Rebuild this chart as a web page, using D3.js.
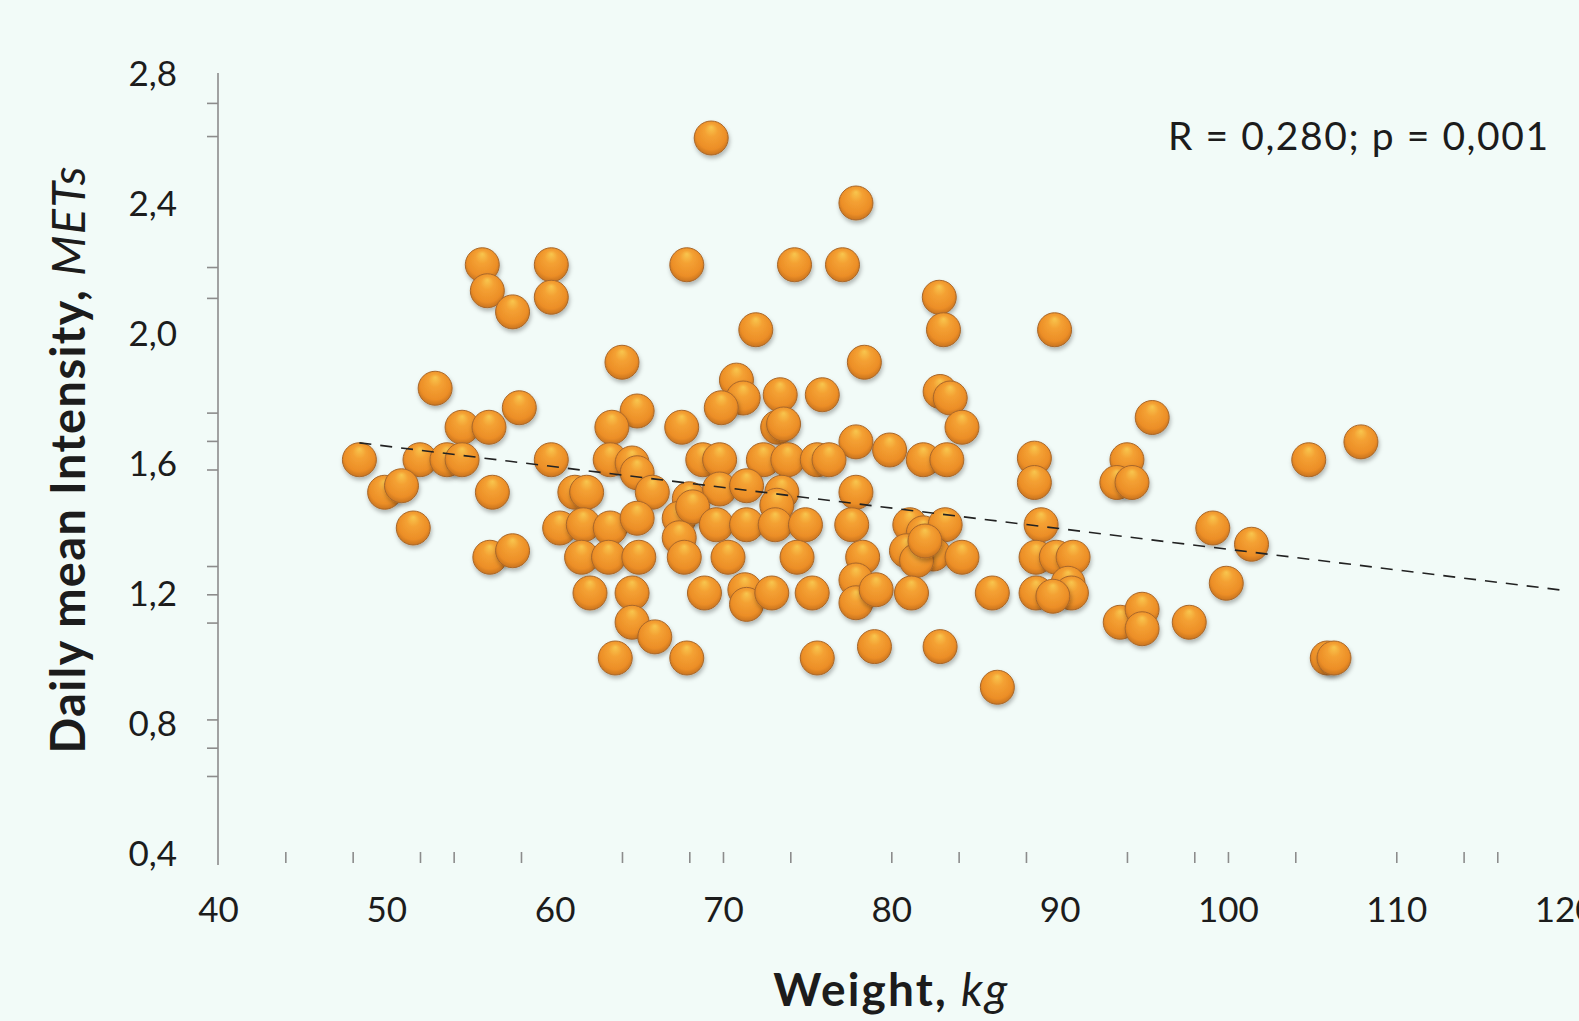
<!DOCTYPE html>
<html>
<head>
<meta charset="utf-8">
<script src="https://cdn.jsdelivr.net/npm/d3@7"></script>
<style>
  html, body { margin: 0; padding: 0; background: #f2fbf8; }
  svg { display: block; }
  text { font-family: Lato, "Open Sans", sans-serif; fill: #1c1c1c; }
</style>
</head>
<body>
<svg id="chart" width="1579" height="1021"></svg>
<script>
// ---- Data ----
const weight = [
  69.3, 77.9, 55.7, 59.8, 67.85, 74.25, 77.1, 56.0, 59.8, 57.5,
  82.85, 83.1, 71.95, 89.7, 64.0, 78.4, 52.9, 70.8, 71.2, 73.4,
  75.9, 82.9, 83.5, 95.5, 57.9, 64.9, 69.9, 54.5, 56.1, 63.4,
  67.55, 73.25, 73.6, 84.2, 107.9, 77.9, 79.9, 48.4, 52.0, 53.6,
  54.5, 59.8, 63.3, 64.6, 64.9, 68.8, 69.8, 72.4, 73.85, 75.6,
  76.3, 81.9, 83.3, 88.5, 94.0, 104.8, 88.5, 93.4, 94.3, 49.9,
  50.9, 56.3, 61.2, 61.9, 65.8, 68.0, 69.8, 71.4, 73.5, 73.2,
  77.9, 51.6, 60.3, 61.7, 63.3, 64.9, 67.4, 68.2, 69.6, 71.4,
  73.1, 74.9, 77.65, 81.1, 81.9, 83.2, 88.9, 99.1, 101.4, 67.4,
  56.15, 57.5, 61.6, 63.2, 65.0, 67.7, 70.3, 74.4, 78.3, 80.9,
  82.5, 84.2, 88.6, 89.8, 90.8, 81.5, 82.0, 62.1, 64.6, 68.9,
  71.3, 71.4, 72.9, 75.3, 77.9, 77.9, 79.1, 81.2, 86.0, 88.6,
  90.5, 90.7, 89.6, 99.9, 64.6, 65.95, 93.6, 94.9, 94.9, 97.7,
  63.6, 67.85, 75.6, 79.0, 82.9, 105.9, 106.3, 86.3
];
const intensity = [
  2.60, 2.40, 2.21, 2.21, 2.21, 2.21, 2.21, 2.13, 2.11, 2.065,
  2.11, 2.01, 2.01, 2.01, 1.91, 1.91, 1.83, 1.855, 1.80, 1.81,
  1.81, 1.82, 1.80, 1.74, 1.77, 1.76, 1.77, 1.71, 1.71, 1.71,
  1.71, 1.71, 1.72, 1.71, 1.665, 1.665, 1.64, 1.61, 1.61, 1.61,
  1.61, 1.61, 1.61, 1.60, 1.57, 1.61, 1.61, 1.61, 1.61, 1.61,
  1.61, 1.61, 1.61, 1.615, 1.61, 1.61, 1.54, 1.54, 1.54, 1.51,
  1.53, 1.51, 1.51, 1.51, 1.51, 1.49, 1.52, 1.53, 1.51, 1.47,
  1.51, 1.40, 1.40, 1.41, 1.40, 1.43, 1.43, 1.465, 1.41, 1.41,
  1.41, 1.41, 1.41, 1.41, 1.385, 1.41, 1.41, 1.40, 1.35, 1.37,
  1.31, 1.33, 1.31, 1.31, 1.31, 1.31, 1.31, 1.31, 1.31, 1.33,
  1.32, 1.31, 1.31, 1.31, 1.31, 1.30, 1.36, 1.20, 1.20, 1.20,
  1.21, 1.165, 1.20, 1.20, 1.24, 1.17, 1.21, 1.20, 1.20, 1.20,
  1.23, 1.20, 1.19, 1.23, 1.11, 1.065, 1.11, 1.15, 1.09, 1.11,
  1.00, 1.00, 1.00, 1.035, 1.035, 1.00, 1.00, 0.91
];
const trendX = [48.4, 119.8];
const trendY = [1.662, 1.209];
const xLabelTicks = [40, 50, 60, 70, 80, 90, 100, 110, 120];
const xMinorTicks = [44, 48, 52, 54, 58, 64, 68, 70, 74, 80, 84, 88, 94, 98, 100, 104, 110, 114, 116];
const yLabelTicks = [0.4, 0.8, 1.2, 1.6, 2.0, 2.4, 2.8];
const yMinorTicks = [2.708, 2.606, 2.203, 2.108, 1.755, 1.668, 1.58, 1.283, 1.196, 1.109, 0.811, 0.724, 0.637];
const statText = "R = 0,280; p = 0,001";
const xTitle = "Weight, ";
const xTitleUnit = "kg";
const yTitle = "Daily mean Intensity, ";
const yTitleUnit = "METs";

// ---- Chart ----
const svg = d3.select("#chart");
svg.append("rect").attr("width", 1579).attr("height", 1021).attr("fill", "#f2fbf8");

const x = d3.scaleLinear().domain([40, 120]).range([218, 1564.6]);
const y = d3.scaleLinear().domain([0.4, 2.8]).range([853, 73]);
const fmt = v => d3.format(".1f")(v).replace(".", ",");

const defs = svg.append("defs");
const grad = defs.append("radialGradient").attr("id", "ball")
  .attr("cx", "50%").attr("cy", "45%").attr("r", "55%")
  .attr("fx", "50%").attr("fy", "18%");
grad.append("stop").attr("offset", "0%").attr("stop-color", "#f8c64e");
grad.append("stop").attr("offset", "35%").attr("stop-color", "#f4a133");
grad.append("stop").attr("offset", "80%").attr("stop-color", "#ec8e27");
grad.append("stop").attr("offset", "100%").attr("stop-color", "#c9741e");
const shadow = defs.append("filter").attr("id", "shadow")
  .attr("x", "-50%").attr("y", "-50%").attr("width", "200%").attr("height", "200%");
shadow.append("feDropShadow").attr("dx", 1).attr("dy", 3).attr("stdDeviation", 2.2)
  .attr("flood-color", "#000").attr("flood-opacity", 0.28);

// Y axis line
svg.append("line")
  .attr("x1", x(40)).attr("x2", x(40))
  .attr("y1", y(2.8)).attr("y2", y(0.4) + 12)
  .attr("stroke", "#8c8c8c").attr("stroke-width", 1.6);

// Y minor ticks
const yMinorAxis = d3.axisLeft(y).tickValues(yMinorTicks).tickSize(11).tickFormat("");
const gyMinor = svg.append("g").attr("transform", `translate(${x(40)},0)`).call(yMinorAxis);
gyMinor.select(".domain").remove();
gyMinor.selectAll("line").attr("stroke", "#8c8c8c").attr("stroke-width", 1.6);

// Y labels
const yLabelAxis = d3.axisLeft(y).tickValues(yLabelTicks).tickSize(0).tickPadding(41).tickFormat(fmt);
const gyLab = svg.append("g").attr("transform", `translate(${x(40)},0)`).call(yLabelAxis);
gyLab.select(".domain").remove();
gyLab.selectAll("text").attr("font-family", "Lato, sans-serif").attr("font-size", 35)
  .attr("fill", "#1c1c1c").attr("dy", "0.36em");

// X minor ticks
const xMinorAxis = d3.axisBottom(x).tickValues(xMinorTicks).tickSize(11).tickFormat("");
const gxMinor = svg.append("g").attr("transform", `translate(0,${y(0.4) - 1})`).call(xMinorAxis);
gxMinor.select(".domain").remove();
gxMinor.selectAll("line").attr("stroke", "#8c8c8c").attr("stroke-width", 1.6);

// X labels
const xLabelAxis = d3.axisBottom(x).tickValues(xLabelTicks).tickSize(0).tickPadding(0).tickFormat(d3.format("d"));
const gxLab = svg.append("g").attr("transform", `translate(0,${y(0.4)})`).call(xLabelAxis);
gxLab.select(".domain").remove();
gxLab.selectAll("text").attr("font-family", "Lato, sans-serif").attr("font-size", 35)
  .attr("fill", "#1c1c1c").attr("dy", null).attr("y", 69);

// Axis titles
const xt = svg.append("text").attr("x", x(80) - 1).attr("y", 1006).attr("text-anchor", "middle")
  .attr("font-size", 46).attr("font-weight", "bold")
  .attr("textLength", 234).attr("lengthAdjust", "spacing");
xt.append("tspan").text(xTitle);
xt.append("tspan").attr("font-style", "italic").attr("font-weight", "normal").text(xTitleUnit);

const yt = svg.append("text").attr("transform", `translate(85,460) rotate(-90)`)
  .attr("text-anchor", "middle").attr("font-size", 47).attr("font-weight", "bold")
  .attr("textLength", 587).attr("lengthAdjust", "spacing");
yt.append("tspan").text(yTitle);
yt.append("tspan").attr("font-style", "italic").attr("font-weight", "normal").text(yTitleUnit);

// Points
const pts = weight.map((w, i) => ({ w, v: intensity[i] }));
svg.append("g").selectAll("circle").data(pts).join("circle")
  .attr("cx", d => x(d.w)).attr("cy", d => y(d.v)).attr("r", 17)
  .attr("fill", "url(#ball)").attr("stroke", "#a8672a").attr("stroke-width", 1)
  .attr("filter", "url(#shadow)");

// Trend line
svg.append("path")
  .datum(trendX.map((t, i) => [t, trendY[i]]))
  .attr("d", d3.line().x(d => x(d[0])).y(d => y(d[1])))
  .attr("fill", "none").attr("stroke", "#222").attr("stroke-width", 1.6)
  .attr("stroke-dasharray", "12,9");

// Stats text
svg.append("text").attr("x", 1168).attr("y", 150)
  .attr("font-size", 39).attr("textLength", 380).attr("lengthAdjust", "spacing")
  .text(statText);
</script>
</body>
</html>
